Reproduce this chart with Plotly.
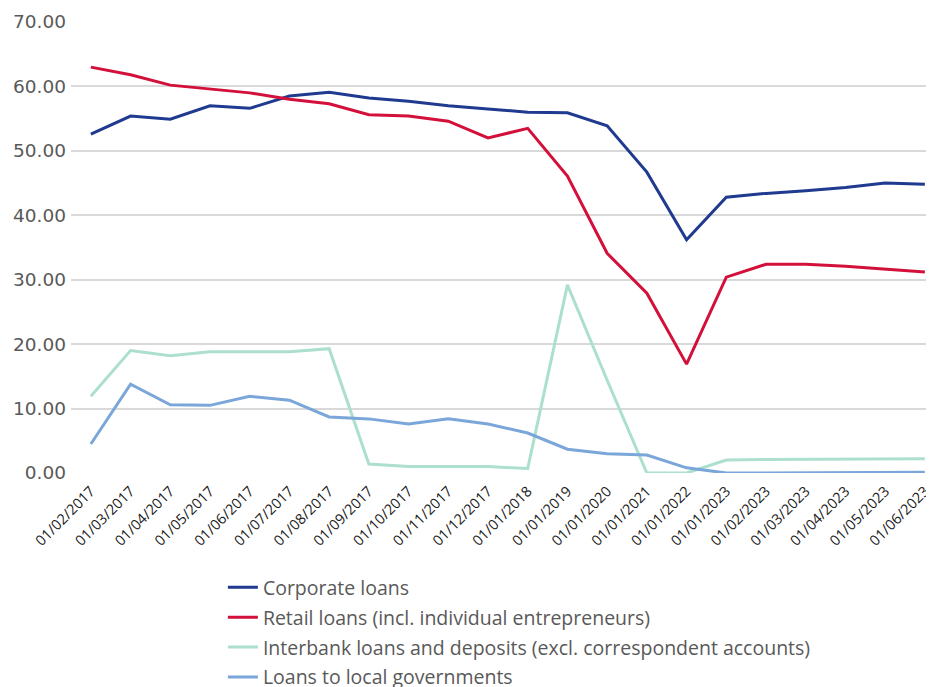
import plotly.graph_objects as go

categories = ["01/02/2017", "01/03/2017", "01/04/2017", "01/05/2017", "01/06/2017",
              "01/07/2017", "01/08/2017", "01/09/2017", "01/10/2017", "01/11/2017",
              "01/12/2017", "01/01/2018", "01/01/2019", "01/01/2020", "01/01/2021",
              "01/01/2022", "01/01/2023", "01/02/2023", "01/03/2023", "01/04/2023",
              "01/05/2023", "01/06/2023"]

corporate = [52.6, 55.4, 54.9, 57.0, 56.6, 58.5, 59.1, 58.2, 57.7, 57.0, 56.5,
             56.0, 55.9, 53.9, 46.7, 36.2, 42.8, 43.4, 43.8, 44.3, 45.0, 44.8]
retail = [63.0, 61.8, 60.2, 59.6, 59.0, 58.0, 57.3, 55.6, 55.4, 54.6, 52.0,
          53.5, 46.1, 34.1, 27.9, 16.9, 30.4, 32.4, 32.4, 32.1, 31.7, 31.2]
interbank = [11.9, 19.0, 18.2, 18.8, 18.8, 18.8, 19.3, 1.4, 1.0, 1.0, 1.0,
             0.7, 29.2, 14.4, 0.0, 0.0, 2.0, 2.1, 2.1, 2.2, 2.2, 2.2]
local_gov = [4.5, 13.8, 10.6, 10.5, 11.9, 11.3, 8.7, 8.4, 7.6, 8.4, 7.6,
             6.2, 3.7, 3.0, 2.8, 0.8, 0.0, 0.0, 0.0, 0.1, 0.1, 0.1]

series = [
    ("Corporate loans", corporate, "#1f3a8f"),
    ("Retail loans (incl. individual entrepreneurs)", retail, "#d2103a"),
    ("Interbank loans and deposits (excl. correspondent accounts)", interbank, "#ace0cc"),
    ("Loans to local governments", local_gov, "#7aa6da"),
]

fig = go.Figure()
for i, (name, vals, color) in enumerate(series):
    fig.add_trace(go.Scatter(x=categories, y=vals, mode="lines", name=name,
                             legendgroup=f"g{i}",
                             line=dict(color=color, width=3)))

# page body has an 8px default margin, so the figure is sized to the visible area
fig.update_layout(
    width=926, height=679,
    margin=dict(l=63, r=0, t=14, b=214, autoexpand=False),
    plot_bgcolor="white", paper_bgcolor="white",
    showlegend=True,
    legend=dict(orientation="v", x=0.176, xanchor="left", y=-0.211, yanchor="top",
                font=dict(family="Open Sans", size=19.5, color="#595959"),
                tracegroupgap=1.5, itemwidth=30),
    xaxis=dict(type="category", range=[-0.5, 21.23], tickangle=-45,
               tickfont=dict(family="Open Sans", size=14.5, color="#1a1a1a"),
               showgrid=False, showline=False, ticks="", automargin=False,
               ticklabelstandoff=6),
    yaxis=dict(range=[0, 70], dtick=10, tickformat=".2f",
               tickfont=dict(family="DejaVu Sans", size=18.5, color="#595959"),
               gridcolor="#d9d9d9", gridwidth=1.5, zeroline=False, ticks="",
               ticklabelstandoff=4, automargin=False),
)

fig.write_html("out.html")
